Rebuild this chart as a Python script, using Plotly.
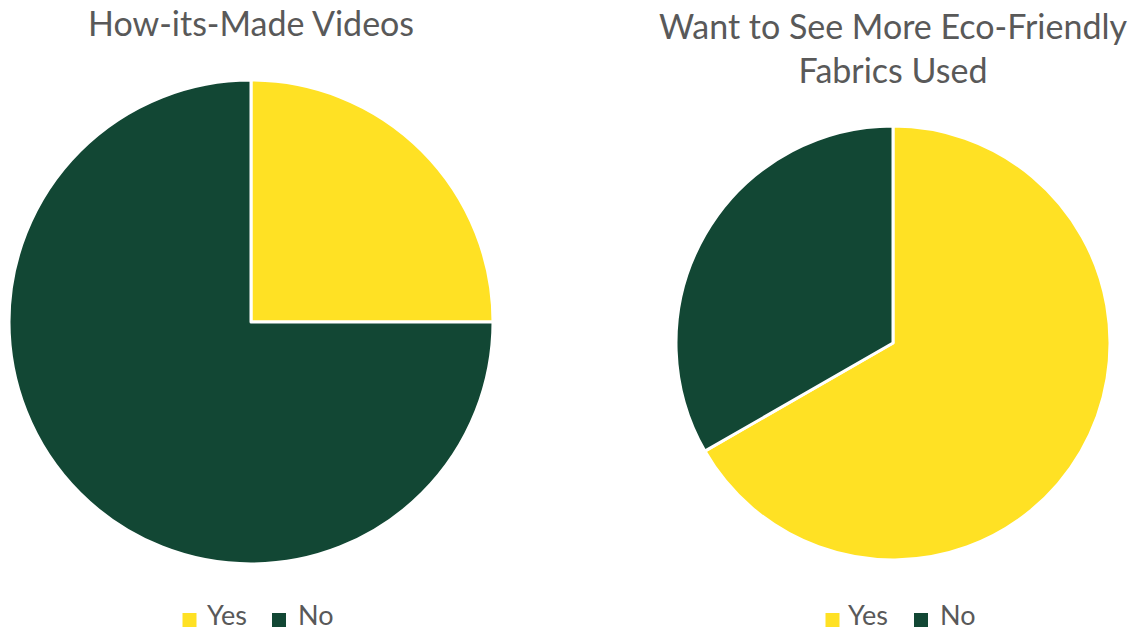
import plotly.graph_objects as go

labels = ["Yes", "No"]
how_its_made = [25, 75]
eco_fabrics = [66.7, 33.3]
titles = ["How-its-Made Videos", "Want to See More Eco-Friendly<br>Fabrics Used"]
colors = ["#FFE124", "#124734"]

W, H = 1135, 634
FONT = "Lato"
TXT = "#595959"

def px_dom(x0, x1, y0, y1):
    return dict(x=[x0 / W, x1 / W], y=[1 - y1 / H, 1 - y0 / H])

fig = go.Figure()
fig.add_trace(go.Pie(
    labels=labels, values=how_its_made, sort=False, direction="clockwise", rotation=0,
    marker=dict(colors=colors, line=dict(color="white", width=3)),
    textinfo="none", hoverinfo="label+value", domain=px_dom(9, 493, 80, 564),
    showlegend=False,
))
fig.add_trace(go.Pie(
    labels=labels, values=eco_fabrics, sort=False, direction="clockwise", rotation=0,
    marker=dict(colors=colors, line=dict(color="white", width=3)),
    textinfo="none", hoverinfo="label+value", domain=px_dom(676, 1110, 126, 560),
    showlegend=False,
))

annotations = [
    dict(text=titles[0], x=251 / W, y=1 - 23 / H, xref="paper", yref="paper",
         showarrow=False, xanchor="center", yanchor="middle",
         font=dict(family=FONT, size=34, color=TXT)),
    dict(text=titles[1], x=893 / W, y=1 - 48 / H, xref="paper", yref="paper",
         showarrow=False, xanchor="center", yanchor="middle",
         font=dict(family=FONT, size=34, color=TXT)),
]
shapes = []
# custom legends (one per pie)
legend_pos = [
    [(189.5, 207), (279, 298)],
    [(832.5, 848), (921, 940)],
]
ly = 620
for pie_items in legend_pos:
    for (sq_cx, tx), lab, col in zip(pie_items, labels, colors):
        shapes.append(dict(type="rect", xref="paper", yref="paper",
                           x0=(sq_cx - 7) / W, x1=(sq_cx + 7) / W,
                           y0=1 - (ly + 7) / H, y1=1 - (ly - 7) / H,
                           fillcolor=col, line=dict(width=0)))
        annotations.append(dict(text=lab, x=(tx - 2) / W, y=1 - 633 / H,
                                xref="paper", yref="paper", showarrow=False,
                                xanchor="left", yanchor="bottom",
                                font=dict(family=FONT, size=27, color=TXT)))

fig.update_layout(
    width=W, height=H,
    margin=dict(l=0, r=0, t=0, b=0),
    paper_bgcolor="white", plot_bgcolor="white",
    showlegend=False,
    annotations=annotations,
    shapes=shapes,
)

fig.write_html("out.html")
